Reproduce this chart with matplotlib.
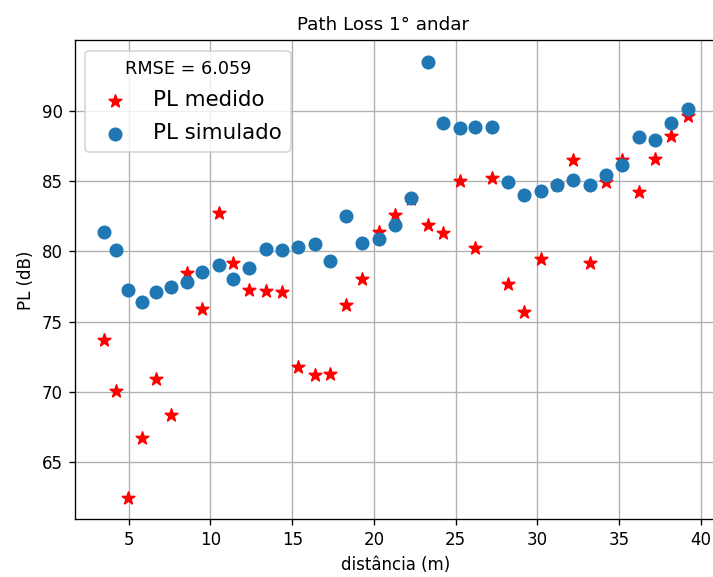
import matplotlib
matplotlib.use("Agg")
import matplotlib.pyplot as plt

# distance of each measurement point (m)
dist = [3.47, 4.2, 4.94, 5.8, 6.65, 7.6, 8.55, 9.5, 10.5, 11.36,
        12.34, 13.4, 14.36, 15.34, 16.4, 17.3, 18.3, 19.3, 20.3, 21.3,
        22.25, 23.3, 24.2, 25.25, 26.2, 27.2, 28.2, 29.2, 30.2, 31.2,
        32.2, 33.2, 34.2, 35.2, 36.2, 37.2, 38.2, 39.2]

pl_medido = [73.7, 70.05, 62.5, 66.7, 70.9, 68.35, 78.45, 75.9, 82.7, 79.2,
             77.25, 77.2, 77.1, 71.75, 71.2, 71.3, 76.2, 78.0, 81.4, 82.6,
             83.7, 81.9, 81.3, 85.0, 80.25, 85.25, 77.7, 75.7, 79.45, 84.7,
             86.5, 79.2, 84.9, 86.5, 84.2, 86.6, 88.2, 89.6]

pl_simulado = [81.4, 80.1, 77.25, 76.4, 77.1, 77.45, 77.8, 78.5, 79.0, 78.0,
               78.8, 80.2, 80.1, 80.3, 80.5, 79.3, 82.5, 80.6, 80.9, 81.9,
               83.8, 93.45, 89.1, 88.8, 88.85, 88.85, 84.9, 84.0, 84.3, 84.7,
               85.1, 84.7, 85.45, 86.15, 88.1, 87.9, 89.1, 90.1]

rmse = 6.059

fig = plt.figure(figsize=(713 / 120, 577 / 120), dpi=120)
# the reference is cropped just before the right spine
ax = fig.add_axes([74.5 / 713, 0.100, (717 - 74.5) / 713, 0.830])
ax.scatter(dist, pl_medido, marker="*", color="red", s=62, label="PL medido")
ax.scatter(dist, pl_simulado, marker="o", color="#1f77b4", s=55, label="PL simulado")
ax.set_title("Path Loss 1° andar", fontsize=11, x=0.48)
ax.set_xlabel("distância (m)")
ax.set_ylabel("PL (dB)")
ax.grid(True)
ax.set_axisbelow(True)
ax.legend(title=f"RMSE = {rmse}", loc="upper left", fontsize=12.8,
          title_fontsize=10.6, labelspacing=0.6)

plt.savefig("out.png", dpi=120)
plt.close()
